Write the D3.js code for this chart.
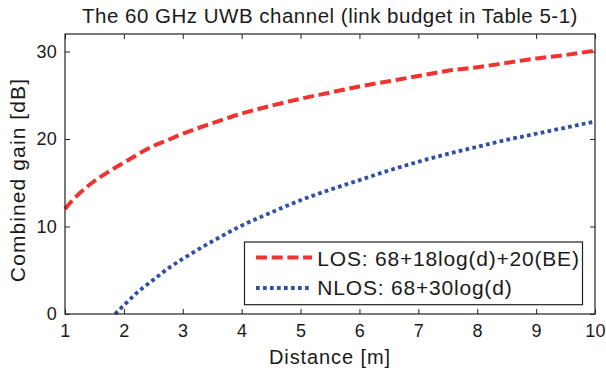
<!DOCTYPE html>
<html><head><meta charset="utf-8">
<script src="https://cdnjs.cloudflare.com/ajax/libs/d3/7.8.5/d3.min.js"></script>
<style>
html,body{margin:0;padding:0;background:#fff;}
text{font-family:"Liberation Sans",Arial,Helvetica,sans-serif;fill:#1a1a1a;}
</style></head>
<body><svg id="chart" width="606" height="371"></svg>
<script>
const title = "The 60 GHz UWB channel (link budget in Table 5-1)";
const xLabel = "Distance [m]";
const yLabel = "Combined gain [dB]";
const xTicks = [1,2,3,4,5,6,7,8,9,10];
const yTicks = [0,10,20,30];
const seriesNames = ["LOS: 68+18log(d)+20(BE)", "NLOS: 68+30log(d)"];
const losDist = [1,1.1,1.2,1.35,1.5,1.75,2,2.25,2.5,2.75,3,3.5,4,4.5,5,5.5,6,6.5,7,7.5,8,8.5,9,9.5,10];
const losGain = [12.0,12.8,13.5,14.4,15.2,16.3,17.3,18.3,19.2,19.9,20.6,21.8,22.9,23.8,24.6,25.3,26.0,26.6,27.2,27.8,28.2,28.7,29.2,29.6,30.1];
const nlosDist = [1.85,2,2.25,2.5,2.75,3,3.5,4,4.5,5,5.5,6,6.5,7,7.5,8,8.5,9,9.5,10];
const nlosGain = [0.0,1.0,2.6,3.9,5.2,6.3,8.3,10.1,11.6,13.0,14.2,15.3,16.4,17.4,18.3,19.1,19.9,20.6,21.3,22.0];

const W = 606, H = 371;
const m = {left:65, right:11, top:34, bottom:57};
const svg = d3.select("#chart");
const x = d3.scaleLinear().domain([1,10]).range([m.left, W-m.right]);
const y = d3.scaleLinear().domain([0,32]).range([H-m.bottom, m.top]);

const g = svg.append("g");
const tl = 5;
const xb = g.append("g").attr("transform",`translate(0,${H-m.bottom})`)
  .call(d3.axisBottom(x).tickValues(xTicks).tickSize(-tl).tickPadding(tl+5).tickFormat(d3.format("d")));
const xt = g.append("g").attr("transform",`translate(0,${m.top})`)
  .call(d3.axisTop(x).tickValues(xTicks).tickSize(-tl).tickFormat(""));
const yl = g.append("g").attr("transform",`translate(${m.left},0)`)
  .call(d3.axisLeft(y).tickValues(yTicks).tickSize(-tl).tickPadding(tl+3).tickFormat(d3.format("d")));
const yr = g.append("g").attr("transform",`translate(${W-m.right},0)`)
  .call(d3.axisRight(y).tickValues(yTicks).tickSize(-tl).tickFormat(""));
[xb,xt,yl,yr].forEach(a=>{a.select(".domain").remove(); a.selectAll("line").attr("stroke","#222");});
[xb,yl].forEach(a=>a.selectAll("text").style("font-size","18px").attr("fill","#1a1a1a")
  .style("font-family","Liberation Sans, Arial, sans-serif").style("letter-spacing","0.3px"));

const line = d3.line().x(d=>x(d[0])).y(d=>y(d[1])).curve(d3.curveMonotoneX);
const los = losDist.map((d,i)=>[d,losGain[i]]);
const nlos = nlosDist.map((d,i)=>[d,nlosGain[i]]);
const red = "#ef3330", blue = "#2f4fa6";
const redDash = "11,4.7", blueDash = "3.7,3.3";
g.append("path").attr("d",line(los)).attr("fill","none").attr("stroke",red).attr("stroke-width",4).attr("stroke-dasharray",redDash);
g.append("path").attr("d",line(nlos)).attr("fill","none").attr("stroke",blue).attr("stroke-width",3.8).attr("stroke-dasharray",blueDash);

g.append("rect").attr("x",m.left).attr("y",m.top).attr("width",W-m.left-m.right).attr("height",H-m.top-m.bottom)
  .attr("fill","none").attr("stroke","#222").attr("stroke-width",1.2);

// legend
const lg = g.append("g");
lg.append("rect").attr("x",244.5).attr("y",242).attr("width",338).attr("height",62.7).attr("fill","#fff").attr("stroke","#222").attr("stroke-width",1.2);
const items = [{n:seriesNames[0],c:red,da:redDash,ly:257.5,ty:266.3},{n:seriesNames[1],c:blue,da:blueDash,ly:288,ty:295.3}];
items.forEach(it=>{
  lg.append("line").attr("x1",256).attr("x2",312).attr("y1",it.ly).attr("y2",it.ly).attr("stroke",it.c).attr("stroke-width",4).attr("stroke-dasharray",it.da);
  lg.append("text").attr("x",317.3).attr("y",it.ty).style("font-size","21px").style("letter-spacing","0.8px").text(it.n);
});

const cx = (m.left+W-m.right)/2;
svg.append("text").attr("x",cx).attr("y",22.7).attr("text-anchor","middle").style("font-size","20.5px").style("letter-spacing","0.5px").text(title);
svg.append("text").attr("x",cx).attr("y",364.3).attr("text-anchor","middle").style("font-size","20px").style("letter-spacing","0.9px").text(xLabel);
svg.append("text").attr("transform",`translate(24.5,180) rotate(-90)`).attr("text-anchor","middle").style("font-size","21px").style("letter-spacing","1.1px").text(yLabel);
</script></body></html>
